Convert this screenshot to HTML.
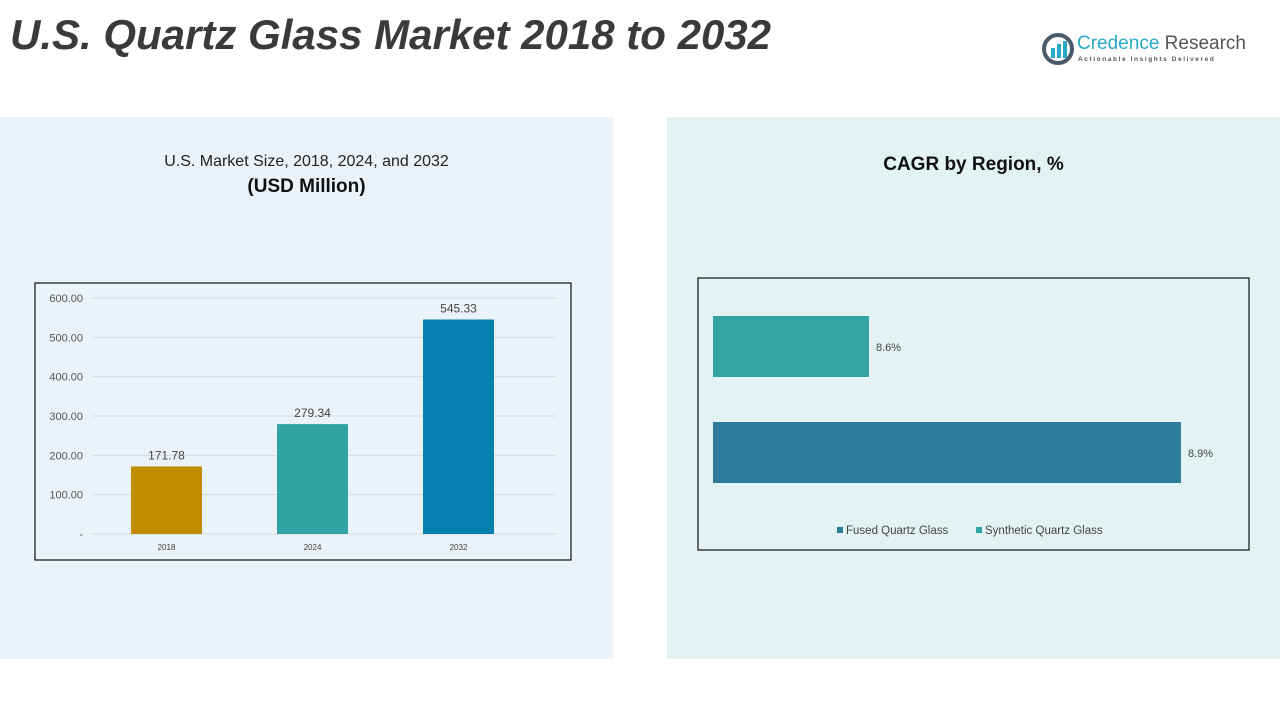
<!DOCTYPE html>
<html><head><meta charset="utf-8"><style>
body{margin:0;width:1280px;height:720px;background:#fff;font-family:"Liberation Sans",sans-serif;position:relative;overflow:hidden}
.abs{position:absolute}
</style></head><body>
<div class="abs" style="left:10px;top:11px;font-size:42px;font-weight:bold;font-style:italic;color:#3a3a3a;white-space:nowrap">U.S. Quartz Glass Market 2018 to 2032</div>
<div class="abs" style="left:1042px;top:33px;width:210px;height:34px">
<svg width="32" height="32" style="position:absolute;left:0;top:0"><circle cx="16" cy="16" r="14" fill="none" stroke="#4a5a6a" stroke-width="4"/><rect x="9" y="15" width="4" height="10" fill="#2aa8c8"/><rect x="15" y="11" width="4" height="14" fill="#2aa8c8"/><rect x="21" y="8" width="4" height="17" fill="#2aa8c8"/></svg>
<div class="abs" style="left:35px;top:0;font-size:19px;color:#2aa8c8;white-space:nowrap">Credence <span style="color:#555">Research</span></div>
<div class="abs" style="left:36px;top:23px;font-size:6.5px;letter-spacing:1.6px;color:#555;white-space:nowrap;font-weight:bold">Actionable Insights Delivered</div>
</div>
<div class="abs" style="left:0;top:117px;width:613px;height:542px;background:#eaf3f9"></div>
<div class="abs" style="left:667px;top:117px;width:613px;height:542px;background:#e3f3f4"></div>
<div class="abs" style="left:0;top:153px;width:613px;text-align:center;font-size:16px;color:#222">U.S. Market Size, 2018, 2024, and 2032</div>
<div class="abs" style="left:0;top:176px;width:613px;text-align:center;font-size:19px;font-weight:bold;color:#111">(USD Million)</div>
<div class="abs" style="left:667px;top:154px;width:613px;text-align:center;font-size:19px;font-weight:bold;color:#111">CAGR by Region, %</div>
<svg class="abs" style="left:0;top:0" width="1280" height="720" id="svg"></svg>
<script>
const years=["2018","2024","2032"];
const sizes=[171.78,279.34,545.33];
const yTicks=[0,100,200,300,400,500,600];
const segs=["Synthetic Quartz Glass","Fused Quartz Glass"];
const cagr=[8.6,8.9];
const svg=document.getElementById('svg');
const NS='http://www.w3.org/2000/svg';
function mk(t,a,txt){const e=document.createElementNS(NS,t);for(const k in a)e.setAttribute(k,a[k]);if(txt!==undefined)e.textContent=txt;svg.appendChild(e);return e;}
let e=mk('rect',{x:35,y:283,width:536,height:277,fill:'none',stroke:'#111','stroke-width':1.2});

const y0=534,ppu=236/600,x0=92,cw=146;
const Y=v=>y0-v*ppu;
yTicks.forEach(t=>{
 const g=mk('line',{x1:x0,x2:556,y1:Y(t),y2:Y(t),stroke:'#d5d9dc','stroke-width':1});
 
 const l=mk('text',{x:83,y:Y(t)+4,'text-anchor':'end','font-size':11,fill:'#555'},t===0?'-':t.toFixed(2));
 
});
const cols=['#c08d00','#31a3a3','#0780b0'];
years.forEach((yr,i)=>{
 const cx=x0+cw*(i+0.5)+1.5;
 const b=mk('rect',{x:cx-35.5,y:Y(sizes[i]),width:71,height:sizes[i]*ppu,fill:cols[i]});
 
 const v=mk('text',{x:cx,y:Y(sizes[i])-7,'text-anchor':'middle','font-size':12,fill:'#444'},sizes[i].toFixed(2));
 
 const c=mk('text',{x:cx,y:550,'text-anchor':'middle','font-size':8,fill:'#444'},yr);
 
});
e=mk('rect',{x:698,y:278,width:551,height:272,fill:'none',stroke:'#111','stroke-width':1.2});

const hx0=713,hmin=8.45,hppu=1040;
const hcols=['#33a3a3','#2e7b9b'];
const hy=[316,422];
cagr.forEach((v,i)=>{
 const w=(v-hmin)*hppu;
 const b=mk('rect',{x:hx0,y:hy[i],width:w,height:61,fill:hcols[i]});
 
 const l=mk('text',{x:hx0+w+7,y:hy[i]+35,'font-size':11,fill:'#444'},v+'%');
 
});
[[837,'#2e7b9b',segs[1]],[976,'#33a3a3',segs[0]]].forEach(([x,c,t])=>{
 const s=mk('rect',{x:x,y:527,width:6,height:6,fill:c});
 
 const l=mk('text',{x:x+9,y:534,'font-size':11.5,fill:'#444'},t);
 
});
</script>
</body></html>
